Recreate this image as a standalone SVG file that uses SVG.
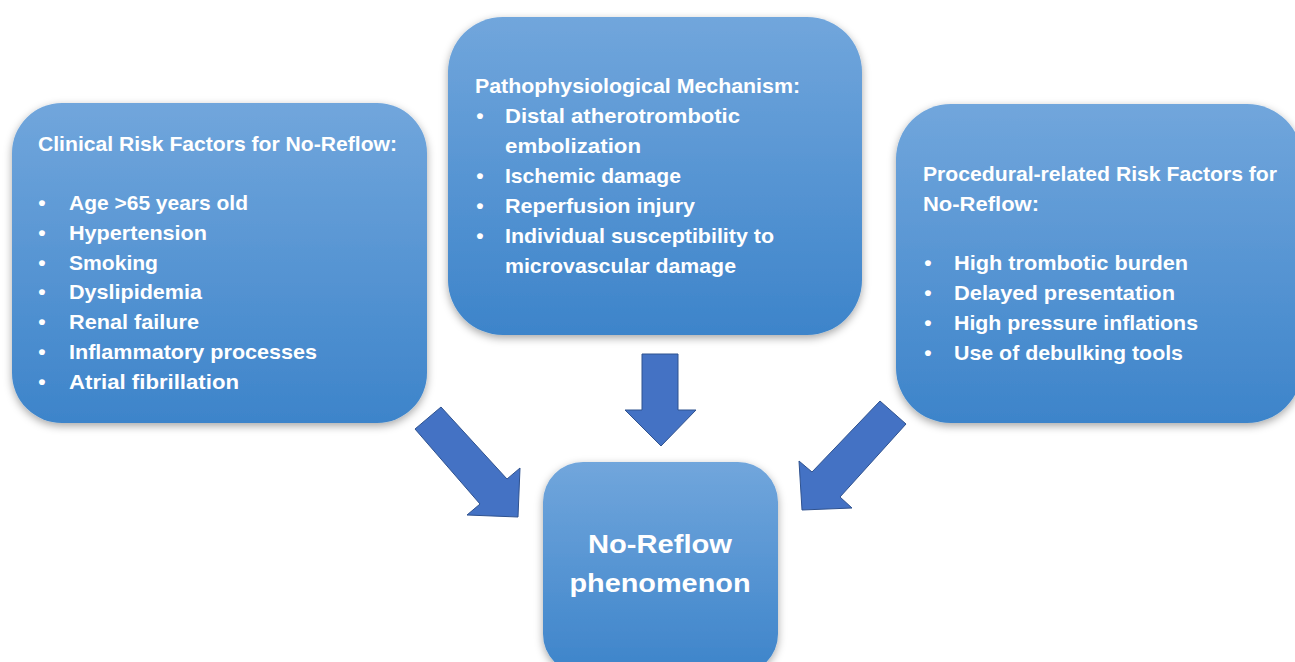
<svg xmlns="http://www.w3.org/2000/svg" width="1295" height="662" viewBox="0 0 1295 662">
<defs>
<linearGradient id="boxGrad" x1="0" y1="0" x2="0" y2="1">
<stop offset="0" stop-color="#71a6dc"/>
<stop offset="1" stop-color="#3d84ca"/>
</linearGradient>
<filter id="shadow" x="-10%" y="-10%" width="120%" height="125%">
<feDropShadow dx="0" dy="3" stdDeviation="4" flood-color="#000" flood-opacity="0.35"/>
</filter>
<style>
.box{fill:url(#boxGrad);filter:url(#shadow);}
.t{font-family:"Liberation Sans",Arial,sans-serif;font-weight:bold;font-size:21px;fill:#ffffff;}
.big{font-size:25.5px;}
.b{text-anchor:middle;}
.arrow{fill:#4472c4;stroke:#2f528f;stroke-width:1;stroke-linejoin:miter;}
</style>
</defs>
<rect width="1295" height="662" fill="#ffffff"/>

<g id="connectors">
<polygon class="arrow" points="415,429 441,407 507,479 520,468 518,517 467,515 480,504"/>
<polygon class="arrow" points="642,354 678,354 678,410 696,410 661,446 625,410 642,410"/>
<polygon class="arrow" points="906,424 880,401 812,472 799,461 802,510 852,508 840,497"/>
</g>

<g id="clinical">
<rect class="box" x="12" y="103" width="415" height="320" rx="50" ry="50"/>
<text class="t" x="38" y="151" textLength="359" lengthAdjust="spacingAndGlyphs">Clinical Risk Factors for No-Reflow:</text>
<text class="t b" x="42" y="210">•</text>
<text class="t" x="69" y="210" textLength="179" lengthAdjust="spacingAndGlyphs">Age &gt;65 years old</text>
<text class="t b" x="42" y="240">•</text>
<text class="t" x="69" y="240" textLength="138" lengthAdjust="spacingAndGlyphs">Hypertension</text>
<text class="t b" x="42" y="270">•</text>
<text class="t" x="69" y="270" textLength="89" lengthAdjust="spacingAndGlyphs">Smoking</text>
<text class="t b" x="42" y="299">•</text>
<text class="t" x="69" y="299" textLength="133" lengthAdjust="spacingAndGlyphs">Dyslipidemia</text>
<text class="t b" x="42" y="329">•</text>
<text class="t" x="69" y="329" textLength="130" lengthAdjust="spacingAndGlyphs">Renal failure</text>
<text class="t b" x="42" y="359">•</text>
<text class="t" x="69" y="359" textLength="248" lengthAdjust="spacingAndGlyphs">Inflammatory processes</text>
<text class="t b" x="42" y="389">•</text>
<text class="t" x="69" y="389" textLength="170" lengthAdjust="spacingAndGlyphs">Atrial fibrillation</text>
</g>

<g id="mechanism">
<rect class="box" x="448" y="17" width="414" height="318" rx="55" ry="55"/>
<text class="t" x="475" y="93" textLength="325" lengthAdjust="spacingAndGlyphs">Pathophysiological Mechanism:</text>
<text class="t b" x="480" y="123">•</text>
<text class="t" x="505" y="123" textLength="235" lengthAdjust="spacingAndGlyphs">Distal atherotrombotic</text>
<text class="t" x="505" y="153" textLength="136" lengthAdjust="spacingAndGlyphs">embolization</text>
<text class="t b" x="480" y="183">•</text>
<text class="t" x="505" y="183" textLength="176" lengthAdjust="spacingAndGlyphs">Ischemic damage</text>
<text class="t b" x="480" y="213">•</text>
<text class="t" x="505" y="213" textLength="190" lengthAdjust="spacingAndGlyphs">Reperfusion injury</text>
<text class="t b" x="480" y="243">•</text>
<text class="t" x="505" y="243" textLength="269" lengthAdjust="spacingAndGlyphs">Individual susceptibility to</text>
<text class="t" x="505" y="273" textLength="231" lengthAdjust="spacingAndGlyphs">microvascular damage</text>
</g>

<g id="procedural">
<rect class="box" x="896" y="104" width="406" height="319" rx="55" ry="55"/>
<text class="t" x="923" y="181" textLength="354" lengthAdjust="spacingAndGlyphs">Procedural-related Risk Factors for</text>
<text class="t" x="923" y="211" textLength="116" lengthAdjust="spacingAndGlyphs">No-Reflow:</text>
<text class="t b" x="928" y="270">•</text>
<text class="t" x="954" y="270" textLength="234" lengthAdjust="spacingAndGlyphs">High trombotic burden</text>
<text class="t b" x="928" y="300">•</text>
<text class="t" x="954" y="300" textLength="221" lengthAdjust="spacingAndGlyphs">Delayed presentation</text>
<text class="t b" x="928" y="330">•</text>
<text class="t" x="954" y="330" textLength="244" lengthAdjust="spacingAndGlyphs">High pressure inflations</text>
<text class="t b" x="928" y="360">•</text>
<text class="t" x="954" y="360" textLength="229" lengthAdjust="spacingAndGlyphs">Use of debulking tools</text>
</g>

<g id="noreflow">
<rect class="box" x="543" y="462" width="235" height="212" rx="40" ry="40"/>
<text class="t big b" x="660" y="553" textLength="144" lengthAdjust="spacingAndGlyphs">No-Reflow</text>
<text class="t big b" x="660" y="592" textLength="181" lengthAdjust="spacingAndGlyphs">phenomenon</text>
</g>
</svg>
